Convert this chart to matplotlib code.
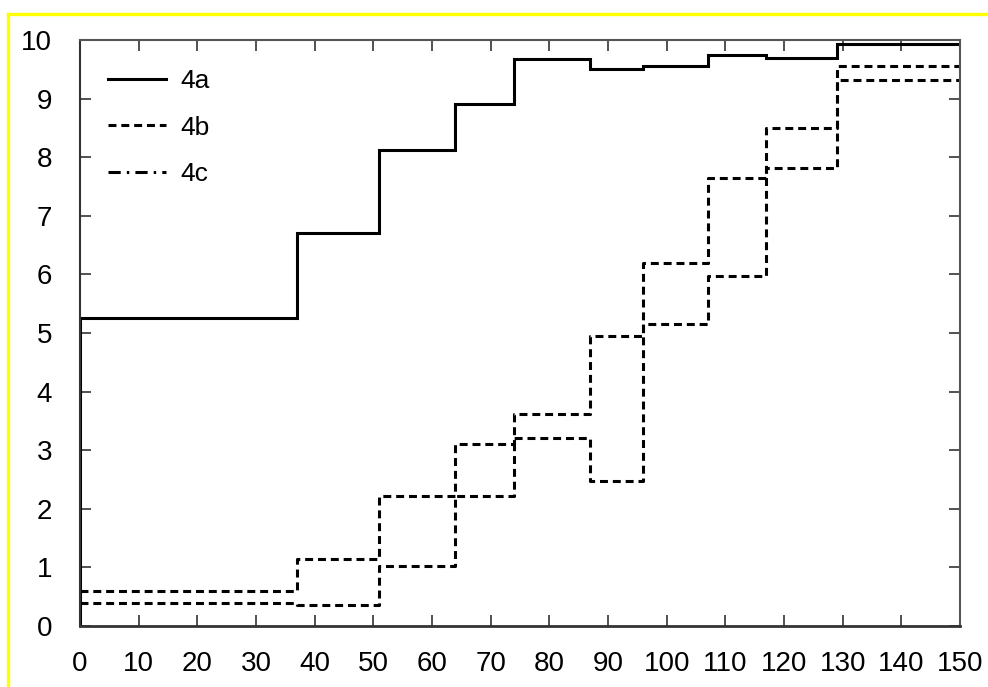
import matplotlib
matplotlib.use("Agg")
import matplotlib.pyplot as plt
from matplotlib.lines import Line2D

plt.rcParams['font.family'] = ['Liberation Sans', 'DejaVu Sans']

# step edges (x) and level of each step
edges = [0, 37, 51, 64, 74, 87, 96, 107, 117, 129, 150]
vals_4a = [5.25, 6.70, 8.12, 8.90, 9.68, 9.50, 9.55, 9.75, 9.70, 9.93]
vals_4b = [0.60, 1.15, 2.22, 3.10, 3.62, 4.95, 6.20, 7.65, 8.50, 9.55]
vals_4c = [0.40, 0.35, 1.02, 2.22, 3.20, 2.48, 5.15, 5.97, 7.82, 9.32]

xticks = list(range(0, 151, 10))
yticks = list(range(0, 11))

fig = plt.figure(figsize=(9.88, 6.87), dpi=100)
ax = fig.add_axes([0.081, 0.0888, 0.8907, 0.853])

lw = 2.2
dash = (2.6, 1.6)

# 4a starts from zero at the left edge
ax.plot([edges[0]] + edges, [0] + vals_4a + [vals_4a[-1]], drawstyle='steps-post',
        color='black', lw=lw, solid_joinstyle='miter')
ax.plot(edges, vals_4b + [vals_4b[-1]], drawstyle='steps-post',
        color='black', lw=lw, linestyle=(0, dash))
ax.plot(edges, vals_4c + [vals_4c[-1]], drawstyle='steps-post',
        color='black', lw=lw, linestyle=(0, dash))

ax.set_xlim(0, 150)
ax.set_ylim(0, 10)
ax.set_xticks(xticks)
ax.set_yticks(yticks)
ax.tick_params(direction='in', length=8, width=1.2, top=True, right=True,
               labelsize=20, color='#333333')
ax.tick_params(axis='y', pad=20)
ax.tick_params(axis='x', pad=18)
for s in ax.spines.values():
    s.set_color('#555555')
    s.set_linewidth(1.5)
ax.spines['left'].set_color('#333333')
ax.spines['bottom'].set_color('#333333')
ax.spines['bottom'].set_linewidth(2)

handles = [
    Line2D([], [], color='black', lw=lw),
    Line2D([], [], color='black', lw=lw, linestyle=(0, dash)),
    Line2D([], [], color='black', lw=lw, linestyle=(0, (4, 2, 0.8, 2))),
]
ax.legend(handles, ['4a', '4b', '4c'], loc='upper left', frameon=False,
          fontsize=19, handlelength=2.2, handletextpad=0.53, labelspacing=0.85,
          bbox_to_anchor=(0.02, 0.968), borderaxespad=0)

# yellow frame (top and left only)
fig.add_artist(Line2D([7.5 / 988, 1], [1 - 13.5 / 687, 1 - 13.5 / 687],
                      transform=fig.transFigure, color='#ffff00', lw=2.4))
fig.add_artist(Line2D([7.5 / 988, 7.5 / 988], [0, 1 - 13.5 / 687],
                      transform=fig.transFigure, color='#ffff00', lw=2.4))

fig.savefig('out.png', dpi=100)
